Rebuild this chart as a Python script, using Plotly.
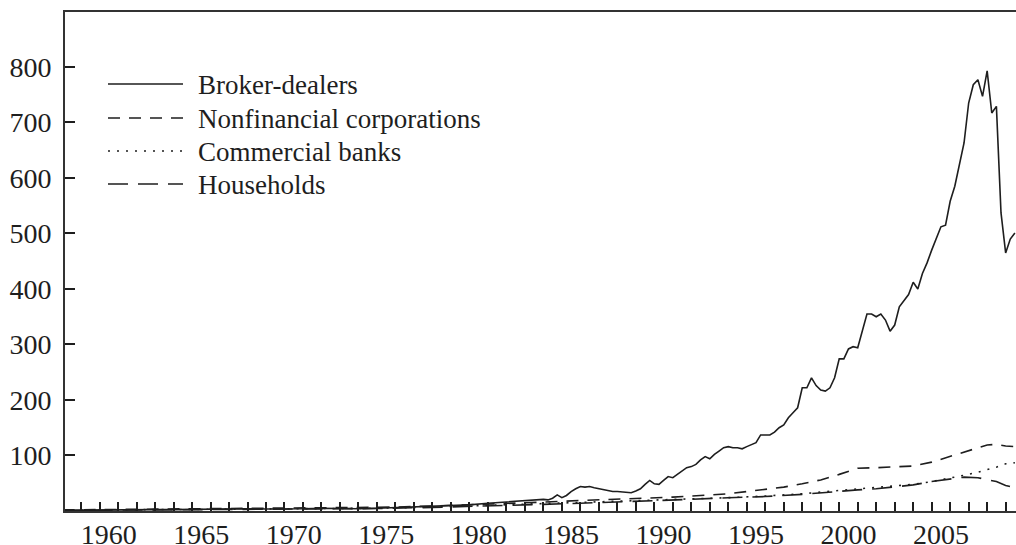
import plotly.graph_objects as go

# ---------------- data ----------------
# Broker-dealers: annual 1958-1983, then quarterly 1984Q1-2009Q3
bd_annual_years = list(range(1958, 1984))
bd_annual_vals = [1, 1.5, 1.5, 2, 2, 2.5, 2.5, 3, 3, 3.5, 4, 3.5, 3.5, 4, 5, 4.5,
                  4, 5, 6, 7, 8, 9, 11, 14, 16, 19]
bd_quarterly_vals = [
    21, 20, 23, 29,        # 1984
    24, 28, 35, 40,        # 1985
    44, 43, 44, 42,        # 1986
    40, 38, 37, 35,        # 1987
    35, 34, 33, 33,        # 1988
    36, 40, 48, 55,        # 1989
    49, 48, 55, 62,        # 1990
    60, 66, 72, 78,        # 1991
    80, 84, 92, 98,        # 1992
    94, 102, 108, 114,     # 1993
    116, 114, 114, 112,    # 1994
    116, 120, 123, 137,    # 1995
    137, 137, 142, 150,    # 1996
    155, 168, 177, 186,    # 1997
    222, 222, 240, 226,    # 1998
    218, 216, 222, 240,    # 1999
    274, 274, 292, 296,    # 2000
    294, 325, 355, 355,    # 2001
    350, 355, 344, 324,    # 2002
    335, 368, 378, 390,    # 2003
    412, 400, 428, 447,    # 2004
    470, 492, 512, 515,    # 2005
    558, 585, 625, 663,    # 2006
    735, 768, 777, 747,    # 2007
    793, 717, 729, 537,    # 2008
    465, 490, 501,         # 2009
]
bd_quarterly_dates = [1984 + i / 4 for i in range(len(bd_quarterly_vals))]
bd_x = bd_annual_years + bd_quarterly_dates
bd_y = bd_annual_vals + bd_quarterly_vals

nf_x = [1958, 1960, 1962, 1964, 1966, 1968, 1970, 1972, 1974, 1976, 1978, 1980, 1982,
        1984, 1986, 1988, 1990, 1991, 1992, 1993, 1994, 1995, 1996, 1997, 1998, 1999,
        2000, 2000.5, 2001, 2002, 2003, 2004, 2005, 2006, 2007, 2007.5, 2008, 2008.5,
        2009, 2009.5]
nf_y = [2, 2.5, 3, 3, 3.5, 4, 4.5, 5, 6, 7, 9, 11, 14,
        16, 19, 21, 24, 25, 27, 29, 31, 35, 39, 43, 49, 56,
        66, 72, 77, 78, 79, 81, 88, 98, 108, 114, 119, 120,
        117, 116]

cb_x = [1958, 1960, 1965, 1970, 1975, 1978, 1980, 1982, 1984, 1986, 1988, 1990, 1992,
        1994, 1996, 1998, 2000, 2001, 2002, 2003, 2004, 2005, 2006, 2007, 2007.5, 2008,
        2008.5, 2009, 2009.5]
cb_y = [1.5, 2, 2.5, 3.5, 5, 7, 9, 11, 13, 16, 18, 20, 22,
        24, 27, 31, 37, 40, 42, 45, 48, 53, 59, 66, 70, 74,
        79, 85, 87]

hh_x = [1958, 1960, 1965, 1970, 1975, 1978, 1980, 1982, 1984, 1986, 1988, 1990, 1992,
        1994, 1996, 1998, 2000, 2001, 2002, 2003, 2004, 2005, 2006, 2006.75, 2007.5,
        2008, 2008.5, 2009, 2009.25, 2009.5]
hh_y = [1, 1.5, 2, 3, 4.5, 6.5, 8, 10, 12, 14, 16, 19, 21,
        24, 26, 30, 36, 38, 40, 43, 47, 53, 58, 61, 60,
        57, 53, 46, 44, 49]

series_names = ["Broker-dealers", "Nonfinancial corporations", "Commercial banks", "Households"]
series_dash = ["solid", "12px,9px", "2px,7px", "20px,10px"]

year_labels = [str(y) for y in range(1960, 2010, 5)]
y_ticks = [100, 200, 300, 400, 500, 600, 700, 800]

# ---------------- figure ----------------
INK = "#1e1e1e"
FONT = "Liberation Serif"

fig = go.Figure()
for (xs, ys), name, dash in zip([(bd_x, bd_y), (nf_x, nf_y), (cb_x, cb_y), (hh_x, hh_y)],
                                series_names, series_dash):
    fig.add_trace(go.Scatter(x=xs, y=ys, mode="lines", name=name, showlegend=False,
                             line=dict(color=INK, width=1.6, dash=dash)))

# hand-drawn legend (long line samples as in the reference)
W, H = 1016, 545
ML, MR, MT, MB = 65, 0, 12, 34
pw, ph = W - ML - MR, H - MT - MB
def px(x): return (x - ML) / pw
def py(y): return (H - MB - y) / ph

legend_rows = [84, 118, 151, 184]
for name, dash, ry in zip(series_names, series_dash, legend_rows):
    fig.add_shape(type="line", xref="paper", yref="paper",
                  x0=px(108), x1=px(183), y0=py(ry), y1=py(ry),
                  line=dict(color=INK, width=1.6, dash=dash))
    fig.add_annotation(xref="paper", yref="paper", x=px(196), y=py(ry + 1),
                       text=name, showarrow=False, xanchor="left", yanchor="middle",
                       font=dict(family=FONT, size=27, color=INK))

fig.update_layout(
    width=W, height=H,
    margin=dict(l=ML, r=MR, t=MT, b=MB, pad=0, autoexpand=False),
    paper_bgcolor="white", plot_bgcolor="white",
    font=dict(family=FONT, size=28, color=INK),
    showlegend=False,
)
fig.update_xaxes(
    range=[1958.13, 2009.56],
    automargin=False,
    tickmode="array",
    tickvals=[int(y) + 0.5 for y in year_labels], ticktext=year_labels,
    ticks="", showgrid=False, zeroline=False,
    showline=True, linecolor="#333333", linewidth=2, mirror=True,
    minor=dict(tickmode="array", tickvals=list(range(1959, 2010)),
               ticks="inside", ticklen=9, tickcolor=INK, tickwidth=1.5, showgrid=False),
    tickfont=dict(family=FONT, size=28, color=INK),
    ticklabelstandoff=-3,
)
fig.update_yaxes(
    range=[0, 899],
    automargin=False,
    tickmode="array", tickvals=y_ticks, ticktext=[str(v) for v in y_ticks],
    ticks="inside", ticklen=10, tickcolor=INK, tickwidth=1.5,
    showgrid=False, zeroline=False,
    showline=True, linecolor="#333333", linewidth=2, mirror=False,
    tickfont=dict(family=FONT, size=28, color=INK),
    ticklabelstandoff=6,
)

fig.write_html("out.html", config={"displayModeBar": False},
               post_script="document.body.style.margin='0';document.body.style.overflow='hidden';")
